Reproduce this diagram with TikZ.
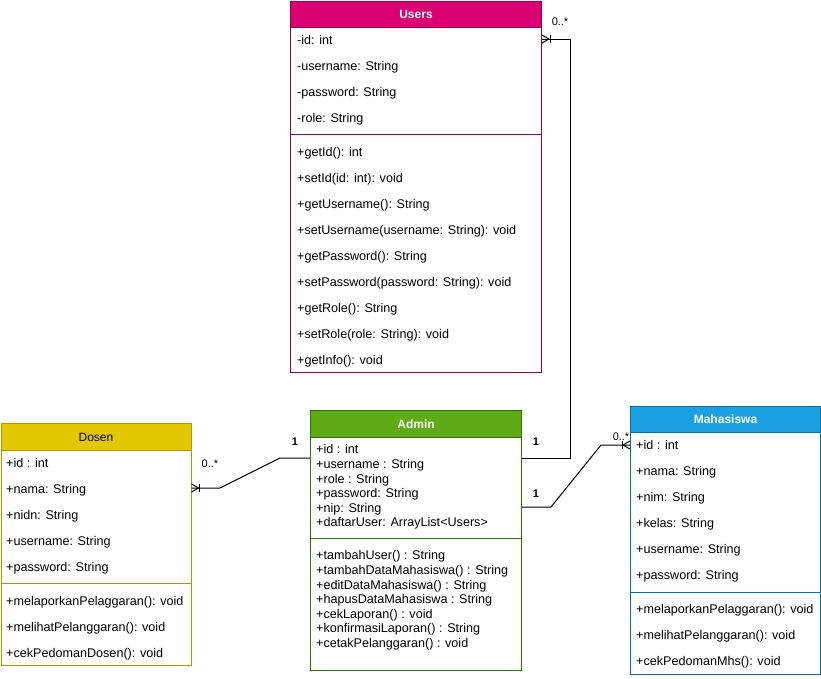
\documentclass[tikz,border=0pt]{standalone}
\usepackage{fontspec}
\setmainfont{Liberation Sans}
\usetikzlibrary{decorations.markings}

\definecolor{usersfill}{HTML}{D80073}
\definecolor{usersline}{HTML}{A50040}
\definecolor{adminfill}{HTML}{60A917}
\definecolor{adminline}{HTML}{2D7600}
\definecolor{mhsfill}{HTML}{1BA1E2}
\definecolor{mhsline}{HTML}{006EAF}
\definecolor{dosenfill}{HTML}{E3C800}
\definecolor{dosenline}{HTML}{B09500}

\tikzset{
	classbox/.style={draw, line width=1pt, anchor=north west, inner sep=0pt, fill=white},
	classhead/.style={draw, line width=1pt, anchor=north west, inner sep=0pt, text=white, font=\fontsize{12}{14}\selectfont\bfseries},
	members/.style={anchor=north west, align=left, inner sep=0pt, font=\fontsize{12.6}{26}\selectfont},
	tightmembers/.style={anchor=north west, align=left, inner sep=0pt, font=\fontsize{12.6}{14.6}\selectfont},
	mult/.style={inner sep=0pt, font=\fontsize{11}{13}\selectfont},
	manyend/.style={line width=1pt, postaction={decorate},
		decoration={markings, mark=at position 1 with {\draw[line width=1pt] (0,4) -- (-7,0) -- (0,-4); \draw[line width=1pt] (-8,4) -- (-8,-4);}}}
}

\begin{document}
\begin{tikzpicture}[x=1pt,y=-1pt]
	\useasboundingbox (0,0) rectangle (821,678);
	
	% Users
	\node[classbox, draw=usersline, minimum width=251, minimum height=371.5] (users) at (290,0.5) {};
	\node[classhead, fill=usersfill, draw=usersline, minimum width=251, minimum height=26.5] (usersHead) at (users.north west) {Users};
	\draw[usersline, line width=1pt] ([yshift=-133.5pt]users.north west) -- ([yshift=-133.5pt]users.north east);
	\node[members] (usersAttr) at (297,35) {-id: int\\-username: String\\-password: String\\-role: String};
	\node[members] (usersOps) at (297,147) {+getId(): int\\+setId(id: int): void\\+getUsername(): String\\+setUsername(username: String): void\\+getPassword(): String\\+setPassword(password: String): void\\+getRole(): String\\+setRole(role: String): void\\+getInfo(): void};
	
	% Admin
	\node[classbox, draw=adminline, minimum width=211, minimum height=260] (admin) at (310,410) {};
	\node[classhead, fill=adminfill, draw=adminline, minimum width=211, minimum height=27] (adminHead) at (admin.north west) {Admin};
	\draw[adminline, line width=1pt] ([yshift=-128pt]admin.north west) -- ([yshift=-128pt]admin.north east);
	\node[tightmembers] (adminAttr) at (316,444.5) {+id : int\\+username : String\\+role : String\\+password: String\\+nip: String\\+daftarUser: ArrayList<Users>};
	\node[tightmembers] (adminOps) at (316,550.5) {+tambahUser() : String\\+tambahDataMahasiswa() : String\\+editDataMahasiswa() : String\\+hapusDataMahasiswa : String\\+cekLaporan() : void\\+konfirmasiLaporan() : String\\+cetakPelanggaran() : void};
	
	% Dosen
	\node[classbox, draw=dosenline, minimum width=190, minimum height=242] (dosen) at (0.5,423) {};
	\node[classhead, fill=dosenfill, draw=dosenline, text=black, font=\fontsize{12}{14}\selectfont, minimum width=190, minimum height=27] (dosenHead) at (dosen.north west) {Dosen};
	\draw[dosenline, line width=1pt] ([yshift=-160pt]dosen.north west) -- ([yshift=-160pt]dosen.north east);
	\node[members] (dosenAttr) at (6,458.5) {+id : int\\+nama: String\\+nidn: String\\+username: String\\+password: String};
	\node[members] (dosenOps) at (6,596.5) {+melaporkanPelaggaran(): void\\+melihatPelanggaran(): void\\+cekPedomanDosen(): void};
	
	% Mahasiswa
	\node[classbox, draw=mhsline, minimum width=190, minimum height=268] (mhs) at (630,406) {};
	\node[classhead, fill=mhsfill, draw=mhsline, minimum width=190, minimum height=26] (mhsHead) at (mhs.north west) {Mahasiswa};
	\draw[mhsline, line width=1pt] ([yshift=-186pt]mhs.north west) -- ([yshift=-186pt]mhs.north east);
	\node[members] (mhsAttr) at (636,440.5) {+id : int\\+nama: String\\+nim: String\\+kelas: String\\+username: String\\+password: String};
	\node[members] (mhsOps) at (636,604.5) {+melaporkanPelaggaran(): void\\+melihatPelanggaran(): void\\+cekPedomanMhs(): void};
	
	% relations
	\draw[manyend] ([yshift=-48pt]admin.north east) -- ++(48,0) |- ([yshift=-38.5pt]users.north east);
	\draw[manyend] ([yshift=-97pt]admin.north east) -- ++(29,0) -- ++(50,-62) -- ([yshift=-39pt]mhs.north west);
	\draw[manyend] ([yshift=-48pt]admin.north west) -- ++(-30,0) -- ++(-60,30) -- ([yshift=-65pt]dosen.north east);
	
	\node[mult] (usersMany) at (560,22) {0..*};
	\node[mult, font=\fontsize{11}{13}\selectfont\bfseries] (adminOne) at (536,442) {1};
	\node[mult, font=\fontsize{11}{13}\selectfont\bfseries] (adminTwo) at (536,494) {1};
	\node[mult] (mhsMany) at (621,437) {0..*};
	\node[mult, font=\fontsize{11}{13}\selectfont\bfseries] (adminThree) at (295,442) {1};
	\node[mult] (dosenMany) at (210,464) {0..*};
\end{tikzpicture}
\end{document}
